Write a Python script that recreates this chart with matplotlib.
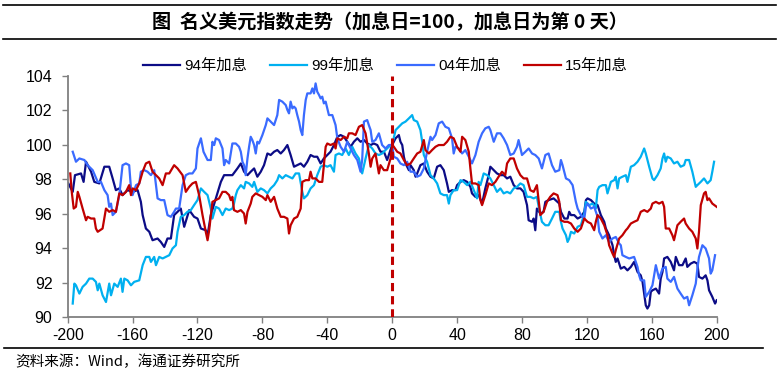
import matplotlib
matplotlib.use("Agg")
import matplotlib.pyplot as plt
from matplotlib.lines import Line2D

plt.rcParams['font.family'] = ['Liberation Sans', 'Noto Sans CJK SC', 'DejaVu Sans']

series_names = ["94年加息", "99年加息", "04年加息", "15年加息"]
series_colors = ["#0C0C86", "#00B0F0", "#3A6BFF", "#C00000"]

days_94 = [-199.6, -196.9, -195.5, -191.8, -190.2, -188.7, -185.6, -183.6, -180.5, -177.4, -174.4, -172.3, -170.3, -168.2, -166.2, -163.1, -160, -156.9, -154.9, -153.8, -151.8, -149.7, -147.7, -144.6, -142.6, -140.5, -138.5, -136.4, -134.4, -132.3, -130.3, -128.2, -125.1, -122.1, -120, -117.9, -114.9, -113.8, -111.8, -108.7, -105.6, -103.6,
           -98.5, -95.4, -93.3, -91.3, -89.2, -87.2, -85.1, -83.1, -81.0, -79.0, -76.9, -74.9, -72.8, -70.8, -68.7, -66.7, -64.6, -62.6, -60.5, -58.5, -56.4, -54.4, -52.3, -50.3, -48.2, -46.2, -44.1, -42.1, -40, -38.0, -35.9, -33.8, -31.8, -29.7, -27.7, -25.6, -23.6, -21.5, -19.5, -17.4, -15.4, -13.3, -11.3, -9.2, -7.2, -5.1, -3.1,
           0, 2.1, 4.1, 5.1, 6.2, 7.2, 8.2, 10.3, 11.3, 13.3, 14.4, 15.4, 17.4, 19.5, 21.5, 23.6, 25.6, 27.7, 29.7, 31.8, 33.8, 34.9, 36.9, 39.0, 40, 42.1, 44.1, 46.2, 48.2, 49.2, 51.3, 53.3, 55.4, 57.4, 59.5, 60.5, 62.6, 64.6, 66.7, 68.7, 70.8, 72.8, 74.9, 76.9, 79.0, 81.0, 83.1, 84.1, 86.2, 87.2, 88.2, 89.2, 91.3, 93.3, 94.4, 96.4, 99.5,
           103.0, 104.0, 106.1, 108.1, 109.1, 110.2, 112.2, 114.3, 116.3, 118.4, 119.4, 120.4, 122.5, 124.5, 126.6, 128.6, 130.7, 131.7, 133.7, 135.8, 136.8, 137.8, 138.9, 140.9, 143.0, 145.0, 147.1, 149.1, 151.2, 153.2, 154.3, 155.3, 156.3, 157.3, 158.4, 159.4, 160.4, 162.5, 164.5, 165.5, 166.6, 167.6, 169.6, 171.7, 173.7, 174.8, 176.8, 178.9, 180.9, 181.9, 184.0, 186.1, 188.1, 189.1, 191.2, 193.2, 194.3, 195.3, 197.3, 199.0, 200.0]
vals_94 = [97.76, 97.27, 98.24, 98.34, 97.85, 99.02, 98.44, 97.85, 97.76, 98.73, 98.73, 98.05, 97.37, 97.47, 97.08, 97.37, 97.27, 97.37, 96.69, 95.92, 95.14, 94.95, 94.46, 94.56, 94.36, 94.07, 94.56, 94.56, 95.92, 96.11, 96.30, 95.24, 96.21, 95.82, 95.72, 95.14, 95.04, 94.75, 95.92, 96.89, 97.85, 98.24,
           98.24, 98.63, 98.92, 98.44, 98.24, 98.44, 98.63, 98.15, 98.44, 98.82, 99.50, 99.41, 99.60, 99.70, 99.50, 99.70, 99.99, 99.41, 98.73, 98.82, 98.92, 98.73, 99.02, 99.41, 99.31, 99.31, 98.92, 99.21, 99.41, 99.60, 99.99, 100.47, 100.57, 100.47, 100.18, 99.89, 100.18, 100.38, 100.18, 100.28, 100.08, 99.99, 100.08, 99.99, 99.60, 99.60, 99.12,
           100.0, 100.38, 100.57, 100.18, 99.99, 99.31, 98.92, 98.53, 98.82, 98.53, 98.15, 98.34, 98.82, 98.92, 98.44, 98.15, 98.05, 98.73, 98.82, 98.53, 97.76, 97.27, 97.37, 97.37, 97.66, 97.85, 97.95, 97.85, 97.56, 97.18, 96.98, 97.08, 96.59, 97.47, 98.24, 98.73, 98.53, 98.34, 98.24, 98.24, 98.05, 98.15, 97.66, 97.47, 97.47, 97.27, 96.50, 95.62, 95.53, 95.72, 95.04, 96.30, 96.01, 96.11, 96.69, 96.79, 96.89,
           96.59, 96.11, 95.72, 95.72, 96.11, 95.92, 95.92, 95.72, 95.82, 96.11, 96.79, 96.89, 96.79, 96.59, 96.50, 95.92, 95.53, 95.14, 94.75, 94.17, 93.59, 93.20, 93.40, 92.81, 92.91, 92.71, 92.91, 93.20, 92.62, 92.42, 92.04, 91.36, 90.68, 90.49, 90.68, 91.46, 91.55, 91.65, 91.36, 92.23, 92.62, 93.40, 93.49, 93.20, 92.71, 93.49, 93.01, 93.01, 93.40, 92.91, 93.10, 93.20, 93.10, 92.33, 92.23, 92.42, 92.13, 91.55, 91.17, 90.78, 90.97]

days_99 = [-196.9, -195.9, -194.9, -192.8, -190.8, -188.7, -186.7, -184.6, -182.6, -181.5, -180.5, -178.5, -176.4, -174.4, -173.3, -171.3, -169.2, -167.2, -166.2, -165.1, -163.1, -161.0, -159.0, -155.9, -153.8, -151.8, -149.7, -148.7, -146.7, -145.6, -143.6, -141.5, -139.5, -137.4, -135.4, -133.3, -132.3, -130.3, -128.2, -126.2, -124.1, -122.1, -120, -117.9, -115.9, -113.8, -111.8, -110.8, -108.7, -106.7, -104.6, -102.6,
           -100.5, -98.5, -97.5, -96.4, -95.4, -93.3, -91.3, -90.3, -88.2, -86.2, -85.1, -83.1, -81.0, -79.0, -76.9, -74.9, -72.8, -70.8, -69.7, -67.7, -65.6, -63.6, -61.5, -59.5, -57.4, -55.4, -54.4, -52.3, -50.3, -48.2, -46.2, -44.1, -42.1, -40, -38.0, -35.9, -34.9, -32.8, -30.8, -28.7, -26.7, -24.6, -22.6, -20.5, -18.5, -16.4, -14.4, -12.3, -10.3, -8.2, -6.2, -4.1, -2.1, 0,
           2.1, 4.1, 6.2, 8.2, 10.3, 12.3, 13.3, 15.4, 17.4, 18.5, 19.5, 21.5, 23.6, 25.6, 27.7, 29.7, 31.8, 33.8, 34.9, 35.9, 37.9, 40.0, 42.1, 44.1, 46.2, 48.2, 50.3, 52.3, 53.3, 54.4, 56.4, 58.5, 60.5, 62.6, 64.6, 66.7, 68.7, 70.8, 72.8, 74.9, 76.9, 79.0, 81.0, 83.1, 85.1, 87.2, 89.2, 90.3, 92.3, 94.4, 96.4, 98.5, 100.5,
           103.0, 104.0, 105.0, 107.1, 108.1, 109.1, 110.2, 112.2, 114.3, 116.3, 118.4, 119.4, 121.4, 123.6, 125.5, 126.6, 127.6, 129.6, 131.7, 132.7, 134.8, 136.8, 137.8, 138.9, 139.9, 141.9, 144.0, 145.0, 147.1, 149.1, 151.2, 153.2, 155.3, 156.3, 158.4, 160.4, 161.4, 163.5, 165.5, 166.6, 167.6, 168.6, 169.6, 171.7, 173.7, 175.8, 177.8, 179.9, 180.9, 183.0, 185.0, 187.1, 188.1, 190.2, 192.2, 194.3, 196.3, 197.3, 198.4]
vals_99 = [90.78, 91.94, 91.84, 91.36, 91.75, 91.94, 92.23, 92.23, 92.04, 91.55, 91.94, 91.26, 90.87, 91.94, 91.26, 91.94, 91.75, 92.23, 91.46, 92.23, 92.13, 91.84, 92.04, 92.13, 93.01, 93.49, 93.49, 93.20, 93.49, 93.01, 93.49, 93.40, 93.49, 93.59, 93.98, 94.17, 94.95, 95.82, 95.92, 96.11, 96.21, 96.50, 96.79, 97.47, 97.27, 97.08, 96.30, 95.72, 96.40, 96.30, 95.92, 96.30,
           96.21, 96.30, 96.59, 97.08, 97.37, 97.66, 97.47, 97.85, 97.76, 97.56, 97.85, 97.27, 97.47, 97.37, 97.18, 97.47, 97.66, 97.95, 98.24, 98.05, 98.24, 98.15, 98.05, 98.34, 98.34, 97.27, 96.89, 97.08, 97.47, 97.66, 98.24, 98.73, 98.82, 98.73, 98.82, 98.44, 99.41, 99.50, 99.41, 99.79, 99.41, 99.89, 99.50, 99.21, 98.34, 99.21, 99.99, 99.79, 99.50, 99.41, 99.50, 99.70, 99.89, 100.0,
           100.86, 101.05, 101.25, 101.35, 101.54, 101.73, 101.44, 101.35, 100.86, 100.18, 99.41, 99.02, 98.24, 98.05, 97.76, 97.18, 97.08, 97.08, 96.59, 97.08, 97.37, 97.37, 97.95, 97.85, 97.66, 97.85, 97.37, 96.89, 97.85, 97.66, 98.34, 98.24, 98.05, 97.66, 97.27, 97.47, 97.18, 97.27, 97.18, 97.47, 97.56, 97.76, 97.66, 96.98, 96.98, 96.89, 96.98, 96.40, 95.53, 95.33, 95.33, 95.72, 96.11,
           96.11, 95.53, 95.14, 94.75, 94.36, 94.56, 94.95, 94.85, 95.24, 95.33, 96.01, 96.69, 96.50, 96.59, 96.30, 97.37, 97.56, 97.66, 97.66, 97.18, 97.85, 97.95, 98.15, 97.47, 98.05, 98.15, 98.24, 97.85, 98.73, 98.82, 99.02, 99.31, 99.79, 99.50, 98.73, 98.05, 97.95, 98.24, 98.63, 99.21, 99.50, 99.02, 99.31, 99.21, 98.92, 99.02, 98.73, 98.82, 99.12, 99.12, 98.44, 97.56, 97.66, 97.85, 98.05, 97.76, 97.95, 98.44, 99.02]

days_04 = [-196.9, -194.9, -192.8, -189.7, -187.7, -184.6, -181.5, -179.5, -177.4, -175.4, -174.4, -173.3, -172.3, -170.3, -168.2, -166.2, -164.1, -162.1, -161.0, -160, -157.9, -155.9, -154.9, -152.8, -150.8, -148.7, -146.7, -144.6, -142.6, -140.5, -138.5, -136.4, -134.4, -133.3, -131.3, -129.2, -127.2, -125.1, -123.1, -121.0, -120, -117.9, -116.3, -113.8, -111.8, -110.8, -109.7, -108.7, -106.7, -104.6, -103.6,
           -102.6, -100.5, -98.5, -96.4, -94.4, -93.3, -92.3, -91.3, -90.3, -89.2, -88.2, -87.2, -86.2, -85.1, -84.1, -83.1, -82.1, -80, -77.9, -76.9, -74.9, -72.8, -70.8, -69.7, -67.7, -65.6, -64.6, -63.6, -62.6, -61.5, -60.5, -59.5, -58.5, -57.4, -56.4, -55.4, -54.4, -53.3, -52.3, -50.3, -49.2, -48.2, -47.2, -46.2, -45.1, -44.1, -43.1, -42.1, -41.0, -40, -39.0, -36.9, -34.9, -33.8, -31.8, -29.7, -27.7, -25.6, -23.6, -21.5, -19.5, -18.5, -17.4, -15.4, -14.4, -13.3, -12.3, -10.3, -8.2, -6.2, -4.1, -2.1, 0,
           1.0, 3.1, 5.1, 7.2, 9.2, 11.3, 13.3, 15.4, 17.4, 19.5, 21.5, 23.6, 24.6, 26.7, 28.7, 30.8, 32.8, 34.9, 36.9, 37.9, 39.0, 41.0, 43.1, 45.1, 47.2, 49.2, 51.3, 53.3, 55.4, 57.4, 59.5, 60.5, 62.6, 64.6, 66.7, 68.7, 70.8, 72.8, 74.9, 76.9, 77.9, 80.0, 82.1, 84.1, 86.2, 88.2, 90.3, 92.3, 94.4, 96.4, 98.5, 100.5,
           103.0, 104.0, 105.0, 107.1, 109.1, 111.2, 112.2, 113.2, 114.3, 116.3, 118.4, 119.4, 120.4, 122.5, 124.5, 126.6, 127.6, 129.6, 131.7, 133.7, 135.8, 137.8, 139.9, 140.9, 141.9, 144.0, 146.1, 149.1, 151.2, 152.2, 153.2, 155.3, 156.3, 158.4, 160.4, 162.5, 163.5, 164.5, 166.6, 168.6, 169.6, 171.7, 173.7, 175.8, 177.8, 179.9, 181.9, 183.0, 185.0, 187.1, 188.1, 189.1, 191.2, 193.2, 195.3, 196.3, 197.3, 199.0]
vals_04 = [99.60, 99.02, 99.21, 99.12, 98.82, 98.53, 97.85, 97.85, 97.37, 97.08, 96.40, 96.59, 95.92, 96.11, 97.08, 98.82, 98.92, 98.82, 97.47, 97.08, 97.66, 97.76, 98.44, 98.53, 98.44, 98.24, 98.53, 96.89, 96.79, 96.79, 95.92, 95.82, 96.11, 96.30, 96.30, 97.66, 98.24, 98.34, 98.34, 98.63, 99.79, 100.38, 99.60, 99.12, 99.12, 100.18, 99.99, 100.38, 100.28, 99.79, 98.82,
           99.12, 98.92, 100.08, 100.08, 99.89, 99.60, 99.02, 98.82, 98.24, 99.21, 99.89, 100.47, 100.28, 99.99, 99.50, 100.18, 100.08, 100.57, 101.15, 101.54, 101.35, 101.15, 101.73, 102.61, 102.51, 102.31, 102.03, 101.83, 102.51, 102.12, 102.22, 102.12, 101.73, 101.35, 100.86, 100.57, 101.73, 102.61, 102.99, 102.99, 103.28, 102.99, 103.57, 103.09, 102.90, 102.70, 102.80, 102.41, 102.51, 102.12, 101.73, 101.73, 101.15, 100.38, 99.89, 99.60, 100.18, 99.79, 99.41, 99.12, 98.44, 99.12, 101.35, 101.44, 101.15, 100.86, 100.18, 100.28, 100.67, 99.99, 99.79, 99.99, 100.0,
           99.31, 99.21, 98.92, 98.82, 99.02, 98.44, 98.44, 98.15, 98.24, 98.63, 99.60, 100.47, 100.28, 100.57, 101.25, 101.35, 101.05, 100.96, 100.38, 99.50, 99.89, 99.79, 99.50, 99.70, 99.31, 98.92, 99.41, 100.18, 100.67, 100.96, 101.05, 100.86, 100.18, 100.67, 100.67, 100.38, 99.99, 99.41, 99.50, 99.89, 100.28, 99.41, 99.60, 99.79, 99.50, 99.41, 99.21, 98.63, 99.41, 99.50, 98.82, 98.44,
           98.53, 99.12, 98.82, 98.05, 97.95, 97.66, 97.18, 96.69, 96.30, 95.92, 95.72, 96.40, 96.59, 96.30, 96.40, 95.82, 94.95, 94.56, 94.75, 94.36, 94.56, 94.65, 94.27, 94.17, 93.59, 93.49, 93.40, 93.49, 92.91, 92.42, 92.13, 92.13, 91.17, 91.46, 91.84, 93.01, 92.62, 92.23, 92.81, 92.91, 92.23, 92.04, 92.33, 91.65, 91.36, 91.07, 91.17, 90.68, 91.26, 91.94, 92.81, 93.49, 94.17, 93.98, 93.40, 92.52, 92.71, 93.59]

days_15 = [-198.4, -197.5, -196.3, -194.9, -193.8, -192.8, -190.8, -188.7, -187.7, -185.6, -183.6, -182.6, -181.5, -178.5, -176.4, -174.4, -172.3, -170.3, -168.2, -166.2, -164.1, -162.1, -161.0, -160, -157.9, -155.9, -153.8, -151.8, -149.7, -147.7, -145.6, -143.6, -141.5, -139.5, -137.4, -134.4, -132.3, -129.2, -127.2, -125.1, -123.1, -121.0, -119.0, -116.9, -114.9, -113.8, -112.8, -110.8, -108.7, -106.7, -104.6, -102.6,
           -100.5, -99.5, -98.5, -97.5, -95.4, -93.3, -91.3, -90.3, -89.2, -87.2, -86.2, -84.1, -82.1, -80, -77.9, -76.9, -74.9, -72.8, -70.8, -68.7, -66.7, -64.6, -63.6, -62.6, -60.5, -58.5, -56.4, -55.4, -53.3, -51.3, -50.3, -49.2, -47.2, -45.1, -43.1, -42.1, -41.0, -40, -38.0, -35.9, -34.9, -33.8, -31.8, -29.7, -27.7, -26.7, -24.6, -22.6, -20.5, -18.5, -16.4, -15.4, -14.4, -13.3, -12.3, -10.3, -8.2, -7.2, -5.1, -3.1, -1.0, 0,
           1.0, 3.1, 5.1, 7.2, 9.2, 11.3, 13.3, 15.4, 17.4, 19.5, 20.5, 22.6, 24.6, 26.7, 28.7, 31.8, 33.8, 35.9, 37.9, 40.0, 42.1, 43.1, 45.1, 47.2, 48.2, 49.2, 51.3, 53.3, 54.4, 55.4, 57.4, 59.5, 61.5, 63.6, 65.6, 67.7, 69.7, 70.8, 72.8, 74.9, 76.9, 79.0, 81.0, 83.1, 85.1, 87.2, 89.2, 91.3, 93.3, 95.4, 97.4, 99.5,
           101.9, 103.0, 104.0, 106.1, 108.1, 110.2, 112.2, 114.3, 116.3, 118.4, 120.4, 122.5, 124.5, 125.5, 126.6, 128.6, 130.7, 132.7, 133.7, 135.8, 136.8, 137.8, 139.9, 141.9, 144.0, 145.0, 147.1, 149.1, 151.2, 153.2, 155.3, 157.3, 159.4, 160.4, 162.5, 164.5, 166.6, 167.6, 168.6, 170.7, 172.7, 173.7, 175.8, 177.8, 179.9, 180.9, 183.0, 185.0, 187.1, 188.1, 189.1, 190.2, 192.2, 193.2, 194.3, 195.3, 197.3, 200.0]
vals_15 = [98.34, 97.27, 96.30, 96.40, 97.27, 96.98, 96.30, 95.62, 95.82, 95.72, 95.72, 95.14, 94.95, 95.14, 96.30, 96.11, 96.21, 96.11, 97.18, 97.08, 97.27, 97.66, 97.08, 97.47, 97.37, 97.76, 98.44, 98.92, 99.02, 98.44, 98.24, 98.05, 97.66, 98.34, 98.34, 98.82, 98.63, 98.24, 97.27, 97.56, 97.76, 97.85, 97.08, 95.92, 94.95, 94.46, 95.04, 96.69, 96.79, 96.89, 97.27, 97.27,
           97.08, 96.79, 96.98, 96.21, 96.11, 96.21, 96.01, 95.43, 96.11, 96.59, 96.98, 97.18, 97.08, 96.98, 96.79, 97.08, 96.69, 96.98, 96.30, 95.82, 95.82, 95.72, 94.85, 95.33, 95.72, 95.82, 96.30, 97.85, 97.95, 97.95, 98.44, 98.05, 98.05, 97.85, 97.85, 98.82, 99.89, 100.08, 99.99, 100.08, 99.79, 100.38, 100.28, 100.47, 100.38, 100.67, 100.67, 100.57, 101.05, 101.15, 100.67, 100.08, 99.50, 98.73, 99.21, 99.50, 98.34, 98.82, 98.53, 98.53, 99.21, 100.0,
           99.89, 99.60, 99.50, 99.12, 98.82, 98.92, 99.21, 99.50, 99.60, 100.28, 99.70, 99.50, 99.70, 99.89, 99.99, 99.99, 100.18, 100.47, 100.38, 99.89, 99.60, 100.47, 100.28, 99.60, 98.63, 97.76, 97.76, 97.66, 96.79, 96.50, 97.08, 97.76, 97.66, 97.85, 98.15, 98.44, 98.24, 98.92, 99.21, 99.21, 98.63, 98.24, 98.05, 98.05, 97.37, 97.27, 97.66, 95.92, 96.11, 96.69, 96.98, 97.18,
           97.08, 96.69, 95.62, 95.53, 95.53, 95.43, 95.14, 94.95, 95.14, 95.72, 95.53, 95.43, 95.04, 95.53, 95.92, 95.72, 95.33, 94.75, 94.17, 93.69, 93.49, 93.88, 94.56, 94.75, 95.04, 95.14, 95.43, 95.53, 95.62, 96.11, 96.21, 96.11, 96.30, 96.59, 96.69, 96.59, 96.69, 96.40, 95.14, 95.14, 94.75, 94.46, 95.33, 95.53, 95.72, 95.43, 95.14, 94.95, 94.56, 93.98, 94.95, 96.50, 97.18, 97.27, 96.79, 96.89, 96.59, 96.40]

x_ticks = [-200, -160, -120, -80, -40, 0, 40, 80, 120, 160, 200]
y_ticks = [90, 92, 94, 96, 98, 100, 102, 104]

title_text = "图  名义美元指数走势（加息日=100，加息日为第 0 天）"
source_text = "资料来源：Wind，海通证券研究所"

fig = plt.figure(figsize=(7.79, 3.75), dpi=100)
ax = fig.add_axes([0.0869, 0.1547, 0.8331, 0.6426])

all_days = [days_94, days_99, days_04, days_15]
all_vals = [vals_94, vals_99, vals_04, vals_15]
handles = []
for d, v, c, n in zip(all_days, all_vals, series_colors, series_names):
    ln, = ax.plot(d, v, color=c, lw=1.6, label=n, solid_joinstyle='round')
    handles.append(ln)

ax.axvline(0, color="#C00000", lw=2.2, dashes=(2.7, 1.6), zorder=5)

ax.set_xlim(-200, 200)
ax.set_ylim(90, 104)
ax.set_xticks(x_ticks)
ax.set_yticks(y_ticks)
ax.set_xticklabels([str(t) for t in x_ticks])
ax.set_yticklabels([str(t) for t in y_ticks])
for s in ["top", "right"]:
    ax.spines[s].set_visible(False)
for s in ["left", "bottom"]:
    ax.spines[s].set_color("#808080")
    ax.spines[s].set_linewidth(1.3)
ax.tick_params(axis="both", direction="out", length=4, width=1, color="#808080",
               labelsize=11.5, labelcolor="black")
ax.tick_params(axis="y", pad=7)
ax.tick_params(axis="x", pad=4)

leg = ax.legend(handles=handles, labels=series_names, loc="center", bbox_to_anchor=(0.49, 1.042),
                ncol=4, frameon=False, fontsize=11, handlelength=2.4, handletextpad=0.3,
                columnspacing=1.5, borderpad=0, borderaxespad=0)

# title block
fig.add_artist(Line2D([0.004, 0.996], [0.986, 0.986], color="black", lw=1.2, transform=fig.transFigure))
fig.add_artist(Line2D([0.004, 0.996], [0.895, 0.895], color="black", lw=1.2, transform=fig.transFigure))
fig.text(0.5, 0.94, title_text, ha="center", va="center", fontsize=13.8, fontweight="bold",
         family=["Noto Sans CJK SC", "DejaVu Sans"])

# source block
fig.add_artist(Line2D([0.005, 0.98], [0.072, 0.072], color="black", lw=1.2, transform=fig.transFigure))
fig.text(0.02, 0.035, source_text, ha="left", va="center", fontsize=10.5,
         family=["Noto Sans CJK SC", "DejaVu Sans"])

fig.savefig("out.png", dpi=100)
